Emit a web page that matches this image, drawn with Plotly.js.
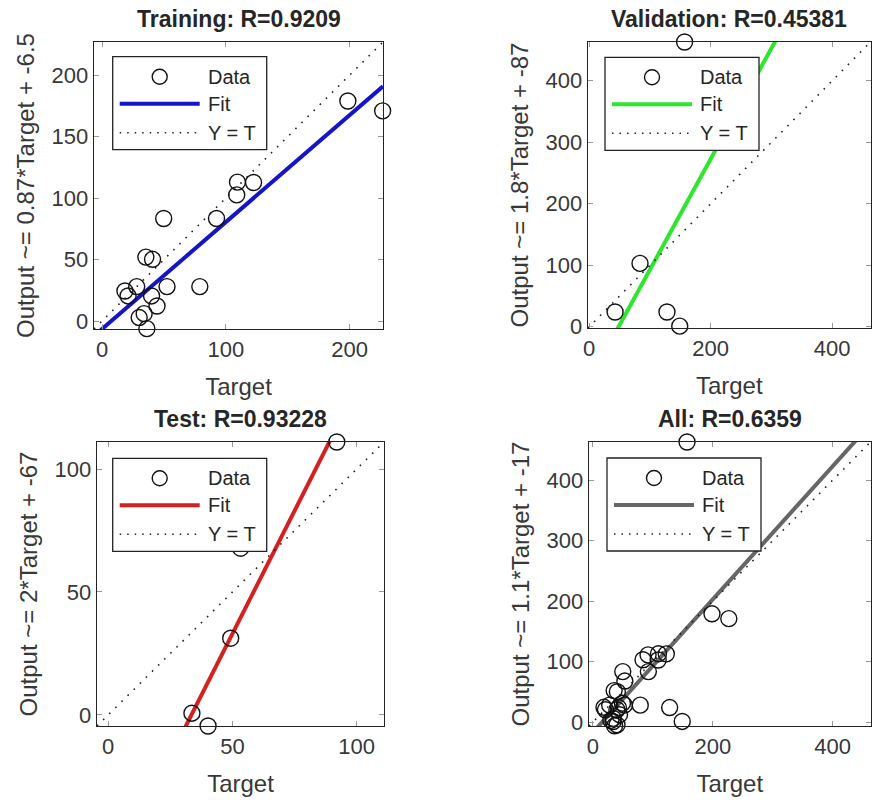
<!DOCTYPE html>
<html><head><meta charset="utf-8">
<script src="https://cdn.plot.ly/plotly-3.0.1.min.js"></script>
<style>html,body{margin:0;padding:0;background:#fff}#chart{width:872px;height:803px}</style>
</head><body><div id="chart"></div><script>
// ---- data ----
const trainTarget = [198.6, 226.7, 109.4, 122.4, 108.8, 92.5, 49.8, 35.4, 40.8, 18.5, 28, 21, 52.5, 79, 40, 44.4, 34, 30, 36.2];
const trainOutput = [179, 171, 113, 112.7, 102.6, 83.4, 83.4, 52, 50.2, 24.4, 28, 20.4, 28, 28, 20.4, 12.2, 6, 2.8, -6.2];
const valTarget = [157, 83.6, 42.6, 128, 149];
const valOutput = [463, 103, 24, 24, 1];
const testTarget = [92, 53.3, 49.3, 33.7, 40.2];
const testOutput = [111, 67.8, 31.2, 0.7, -4.5];
const panelNames = ['Training', 'Validation', 'Test', 'All'];
const rValues = ['0.9209', '0.45381', '0.93228', '0.6359'];
const fitSlopes = [0.87, 1.8, 2, 1.1];
const fitIntercepts = [-6.5, -87, -67, -17];
const ticksTrainX = [0, 100, 200];
const ticksTrainY = [0, 50, 100, 150, 200];
const ticksBig = [0, 200, 400];
const ticksBigY = [0, 100, 200, 300, 400];
const ticksTest = [0, 50, 100];

// ---- layout geometry / style ----
const W = 872, H = 803;
const FONT = 'Liberation Sans, Arial, Helvetica, sans-serif';
const TXT = '#262626';
const fitColors = ['#1414c8', '#2ee62e', '#d42020', '#666666'];
const boxes = [
  {x0: 94, x1: 383, y0: 42, y1: 329},
  {x0: 588, x1: 870.5, y0: 42, y1: 328},
  {x0: 97, x1: 384, y0: 442, y1: 726},
  {x0: 589, x1: 870.5, y0: 442, y1: 726}
];
const ranges = [[-6.5, 227], [-2, 463], [-4.5, 111], [-6.5, 463]];
const ticksX = [ticksTrainX, ticksBig, ticksTest, ticksBig];
const ticksY = [ticksTrainY, ticksBigY, ticksTest, ticksBigY];
const legendPos = [[112.7, 56.7], [605, 57.3], [112.7, 458.3], [607, 458]];

const px = p => p / W;
const py = p => 1 - p / H;

const allTarget = trainTarget.concat(valTarget, testTarget);
const allOutput = trainOutput.concat(valOutput, testOutput);
const targets = [trainTarget, valTarget, testTarget, allTarget];
const outputs = [trainOutput, valOutput, testOutput, allOutput];

const traces = [];
const layout = {
  width: W, height: H,
  margin: {l: 0, r: 0, t: 0, b: 0},
  paper_bgcolor: '#ffffff', plot_bgcolor: '#ffffff',
  showlegend: false,
  font: {family: FONT, color: TXT, size: 22},
  shapes: [], annotations: []
};

for (let i = 0; i < 4; i++) {
  const sfx = i === 0 ? '' : String(i + 1);
  const xa = 'x' + sfx, ya = 'y' + sfx;
  const b = boxes[i];
  const [lo, hi] = ranges[i];
  const m = fitSlopes[i], c = fitIntercepts[i];
  // fit line
  traces.push({
    type: 'scatter', mode: 'lines', xaxis: xa, yaxis: ya,
    x: [lo, hi], y: [m * lo + c, m * hi + c],
    line: {color: fitColors[i], width: 4}, hoverinfo: 'skip'
  });
  // Y = T
  traces.push({
    type: 'scatter', mode: 'lines', xaxis: xa, yaxis: ya,
    x: [lo, hi], y: [lo, hi],
    line: {color: '#222', width: 1.6, dash: '1.6px,7px'}, hoverinfo: 'skip'
  });
  // data
  traces.push({
    type: 'scatter', mode: 'markers', xaxis: xa, yaxis: ya,
    x: targets[i], y: outputs[i], cliponaxis: false,
    marker: {symbol: 'circle-open', size: 16, color: '#111', line: {width: 1.4, color: '#111'}}
  });
  const axBase = {
    showgrid: false, zeroline: false, showline: true, linecolor: '#222', linewidth: 1.3,
    mirror: 'ticks', ticks: 'inside', ticklen: 5, tickcolor: '#999', tickwidth: 1,
    tickfont: {family: FONT, size: 22, color: '#383838'}, range: [lo, hi], fixedrange: true
  };
  layout['xaxis' + sfx] = Object.assign({}, axBase, {
    domain: [px(b.x0), px(b.x1)], anchor: ya, tickvals: ticksX[i], ticktext: ticksX[i].map(String),
    title: {text: 'Target', font: {family: FONT, size: 24, color: '#383838'}, standoff: 17}
  });
  layout['yaxis' + sfx] = Object.assign({}, axBase, {
    domain: [py(b.y1), py(b.y0)], anchor: xa, tickvals: ticksY[i], ticktext: ticksY[i].map(String),
    title: {text: 'Output ~= ' + String(m) + '*Target + ' + String(c), font: {family: FONT, size: 24, color: '#383838'}, standoff: 10}
  });
  // subplot title
  layout.annotations.push({
    xref: 'paper', yref: 'paper', x: px((b.x0 + b.x1) / 2), y: py(b.y0 - 23),
    xanchor: 'center', yanchor: 'middle', showarrow: false,
    text: '<b>' + panelNames[i] + ': R=' + rValues[i] + '</b>',
    font: {family: FONT, size: 23, color: TXT}
  });
  // legend box
  const [lx, ly] = legendPos[i];
  layout.shapes.push({type: 'rect', xref: 'paper', yref: 'paper', layer: 'above',
    x0: px(lx), x1: px(lx + 154), y0: py(ly), y1: py(ly + 93),
    fillcolor: '#ffffff', line: {color: '#222', width: 1.3}});
  layout.shapes.push({type: 'circle', xref: 'paper', yref: 'paper', layer: 'above',
    xsizemode: 'pixel', ysizemode: 'pixel', xanchor: px(lx + 47), yanchor: py(ly + 20),
    x0: -7.5, x1: 7.5, y0: -7.5, y1: 7.5, line: {color: '#111', width: 1.4}});
  layout.shapes.push({type: 'line', xref: 'paper', yref: 'paper', layer: 'above',
    x0: px(lx + 7), x1: px(lx + 87), y0: py(ly + 47), y1: py(ly + 47),
    line: {color: fitColors[i], width: 4}});
  layout.shapes.push({type: 'line', xref: 'paper', yref: 'paper', layer: 'above',
    x0: px(lx + 7), x1: px(lx + 87), y0: py(ly + 76), y1: py(ly + 76),
    line: {color: '#222', width: 1.5, dash: '1.5px,6px'}});
  const legTexts = ['Data', 'Fit', 'Y = T'];
  const legDy = [20, 47, 76];
  for (let k = 0; k < 3; k++) {
    layout.annotations.push({xref: 'paper', yref: 'paper', x: px(lx + 93), y: py(ly + legDy[k]),
      xanchor: 'left', yanchor: 'middle', showarrow: false, text: legTexts[k],
      font: {family: FONT, size: 20, color: TXT}});
  }
}

Plotly.newPlot('chart', traces, layout, {staticPlot: true, displayModeBar: false});
</script></body></html>
